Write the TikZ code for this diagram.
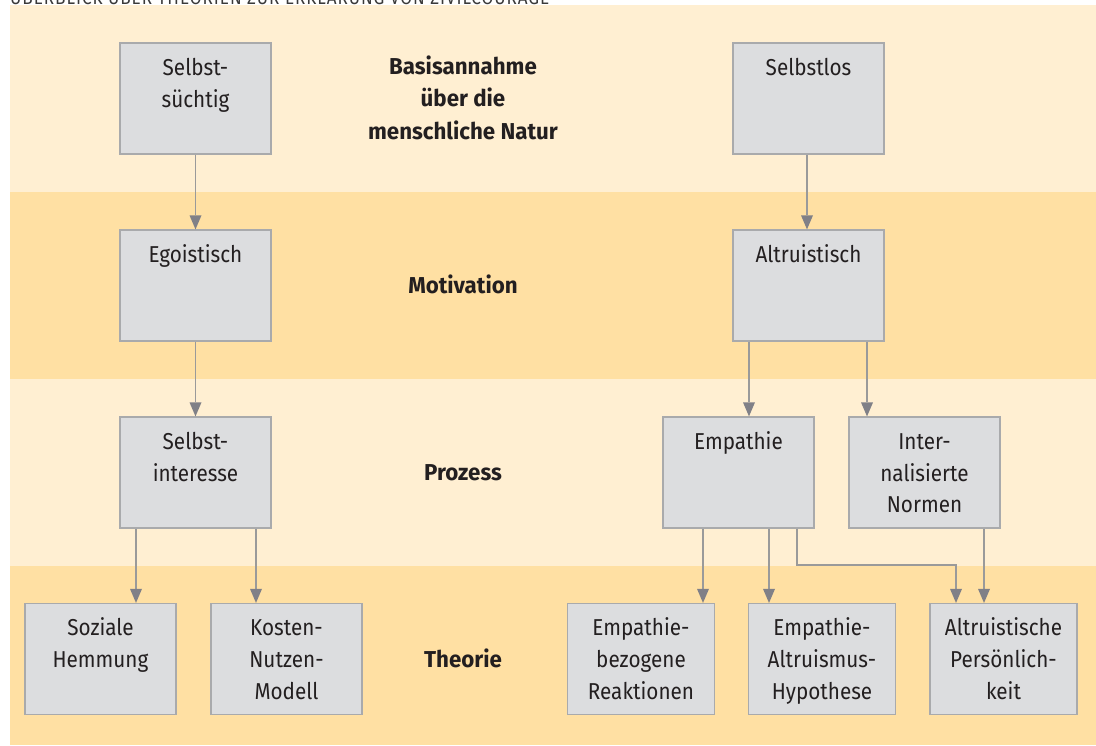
\documentclass[tikz,border=0pt]{standalone}
\usepackage{fontspec}
\setmainfont[FakeStretch=0.9]{Fira Sans}
\usetikzlibrary{arrows.meta,calc}
\definecolor{bandA}{HTML}{FFEFD2}
\definecolor{bandB}{HTML}{FFE0A3}
\definecolor{boxfill}{HTML}{DCDDDF}
\definecolor{boxline}{HTML}{A9AAAC}
\definecolor{linegray}{HTML}{9A9A9A}
\definecolor{tipgray}{HTML}{808087}
\definecolor{txtc}{HTML}{231F20}
\definecolor{titlegray}{HTML}{3A3A3A}
\begin{document}
\begin{tikzpicture}[x=1pt,y=-1pt,
  boxnode/.style={draw=boxline,fill=boxfill,line width=1.2pt,minimum width=151pt,minimum height=111pt,inner sep=0pt},
  narrowbox/.style={boxnode,minimum width=147pt},
  boxtext/.style={font=\fontsize{23}{31.7}\selectfont,text=txtc,align=center,anchor=base,inner sep=0pt},
  rowlabel/.style={font=\fontsize{23}{32.5}\selectfont\bfseries\addfontfeature{FakeStretch=0.97},text=txtc,align=center,anchor=base,inner sep=0pt},
  arr/.style={draw=linegray,line width=1.5pt,-{Triangle[length=14pt,width=12pt,color=tipgray,line width=0pt]}}]
\useasboundingbox (0,0) rectangle (1096,746);
% bands
\fill[bandA] (10,5) rectangle (1096,192);
\fill[bandB] (10,192) rectangle (1096,379);
\fill[bandA] (10,379) rectangle (1096,566);
\fill[bandB] (10,566) rectangle (1096,745);
% title (cut off at the top)
\node[anchor=base west,inner sep=0pt,text=titlegray,font=\fontsize{19}{19}\selectfont\addfontfeature{LetterSpace=5}] (title) at (10,4.5) {ÜBERBLICK ÜBER THEORIEN ZUR ERKLÄRUNG VON ZIVILCOURAGE};
% boxes
\node[boxnode] (s1) at (195.5,98.5) {};
\node[boxnode] (s2) at (808.5,98.5) {};
\node[boxnode] (m1) at (195.5,285.5) {};
\node[boxnode] (m2) at (808.5,285.5) {};
\node[boxnode] (p1) at (195.5,472.5) {};
\node[boxnode] (p2) at (738.5,472.5) {};
\node[boxnode] (p3) at (924.5,472.5) {};
\node[boxnode] (t1) at (100.5,659) {};
\node[boxnode] (t2) at (286.5,659) {};
\node[narrowbox] (t3) at (641,659) {};
\node[narrowbox] (t4) at (822,659) {};
\node[narrowbox] (t5) at (1003.5,659) {};
% box texts (base anchor = baseline of the last line)
\node[boxtext] (s1t) at ([yshift=-64.7pt]s1.north) {Selbst-\\süchtig};
\node[boxtext] (s2t) at ([yshift=-33pt]s2.north) {Selbstlos};
\node[boxtext] (m1t) at ([yshift=-33pt]m1.north) {Egoistisch};
\node[boxtext] (m2t) at ([yshift=-33pt]m2.north) {Altruistisch};
\node[boxtext] (p1t) at ([yshift=-64.7pt]p1.north) {Selbst-\\interesse};
\node[boxtext] (p2t) at ([yshift=-33pt]p2.north) {Empathie};
\node[boxtext] (p3t) at ([yshift=-96.4pt]p3.north) {Inter-\\nalisierte\\Normen};
\node[boxtext] (t1t) at ([yshift=-64.7pt]t1.north) {Soziale\\Hemmung};
\node[boxtext] (t2t) at ([yshift=-96.4pt]t2.north) {Kosten-\\Nutzen-\\Modell};
\node[boxtext] (t3t) at ([yshift=-96.4pt]t3.north) {Empathie-\\bezogene\\Reaktionen};
\node[boxtext] (t4t) at ([yshift=-96.4pt]t4.north) {Empathie-\\Altruismus-\\Hypothese};
\node[boxtext] (t5t) at ([yshift=-96.4pt]t5.north) {Altruistische\\Persönlich-\\keit};
% row labels
\node[rowlabel] (l1) at (463,139.5) {Basisannahme\\über die\\menschliche Natur};
\node[rowlabel] (l2) at (463,293.5) {Motivation};
\node[rowlabel] (l3) at (463,480.5) {Prozess};
\node[rowlabel] (l4) at (463,667) {Theorie};
% connectors
\draw[arr] (s1.south) -- (m1.north);
\draw[arr] ([xshift=-1.5pt]s2.south) -- ([xshift=-1.5pt]s2.south |- m2.north);
\draw[arr] (m1.south) -- (p1.north);
\draw[arr] ([xshift=-59.5pt]m2.south) -- ([xshift=-59.5pt]m2.south |- p2.north);
\draw[arr] ([xshift=58.5pt]m2.south) -- ([xshift=58.5pt]m2.south |- p3.north);
\draw[arr] ([xshift=-59.5pt]p1.south) -- ([xshift=-59.5pt]p1.south |- t1.north);
\draw[arr] ([xshift=60.5pt]p1.south) -- ([xshift=60.5pt]p1.south |- t2.north);
\draw[arr] ([xshift=-35.5pt]p2.south) -- ([xshift=-35.5pt]p2.south |- t3.north);
\draw[arr] ([xshift=30.5pt]p2.south) -- ([xshift=30.5pt]p2.south |- t4.north);
\coordinate (bend) at ([xshift=-47.5pt,yshift=38pt]t5.north);
\draw[arr] ([xshift=58.5pt]p2.south) |- (bend) -- ([xshift=-47.5pt]t5.north);
\draw[arr] ([xshift=59.5pt]p3.south) -- ([xshift=59.5pt]p3.south |- t5.north);
\end{tikzpicture}
\end{document}
